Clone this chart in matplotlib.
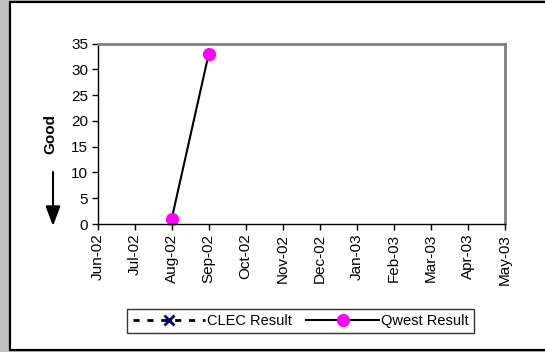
import numpy as np
import matplotlib
matplotlib.use('Agg')
import matplotlib.pyplot as plt
from matplotlib.patches import Rectangle, FancyArrowPatch

plt.rcParams['font.family'] = ['Liberation Sans', 'DejaVu Sans']

# data
months = ["Jun-02", "Jul-02", "Aug-02", "Sep-02", "Oct-02", "Nov-02",
          "Dec-02", "Jan-03", "Feb-03", "Mar-03", "Apr-03", "May-03"]
clec_result = [np.nan] * 12
qwest_result = [np.nan, np.nan, 1, 33, np.nan, np.nan,
                np.nan, np.nan, np.nan, np.nan, np.nan, np.nan]
y_ticks = [0, 5, 10, 15, 20, 25, 30, 35]

fig = plt.figure(figsize=(5.45, 3.52), dpi=100)
fig.patch.set_facecolor('#c0c0c0')

# white panel with black frame, kept behind everything
frame = Rectangle((10 / 545, 2 / 352), 1.2, 348 / 352, transform=fig.transFigure,
                  facecolor='white', edgecolor='black', linewidth=1.6, zorder=-10)
fig.patches.append(frame)

ax = fig.add_axes([97.7 / 545, 128 / 352, 407 / 545, 180.3 / 352])
ax.set_zorder(1)
ax.set_facecolor('white')

x = np.arange(len(months))
ax.plot(x, clec_result, linestyle=(0, (2.2, 2.8)), color='black', linewidth=2,
        marker='x', markersize=7, markeredgecolor='#000080', markeredgewidth=2,
        label='CLEC Result')
ax.plot(x, qwest_result, linestyle='-', color='black', linewidth=1.5,
        marker='o', markersize=8.5, markerfacecolor='#ff00ff', markeredgecolor='#ff00ff',
        label='Qwest Result', clip_on=False)

ax.set_xlim(0, len(months) - 1)
ax.set_ylim(0, 35)
ax.set_xticks(x)
ax.set_xticklabels(months, rotation=90, fontsize=11)
ax.set_yticks(y_ticks)
ax.set_yticklabels([str(v) for v in y_ticks], fontsize=11)
ax.tick_params(axis='both', direction='out', length=4, width=1, color='black', pad=3)

for spine in ax.spines.values():
    spine.set_color('#808080')
    spine.set_linewidth(2)
ax.spines['left'].set_color('black')
ax.spines['left'].set_linewidth(1)
ax.spines['bottom'].set_color('black')
ax.spines['bottom'].set_linewidth(1)

# "Good" label with down arrow
fig.text(50 / 545, 1 - 134 / 352, 'Good', rotation=90, fontsize=11, fontweight='bold',
         ha='center', va='center')
fig.add_artist(FancyArrowPatch(
    (53 / 545, 1 - 172 / 352), (53 / 545, 1 - 226 / 352), transform=fig.transFigure,
    arrowstyle='-|>,head_length=12,head_width=4.5', color='black', linewidth=1.5,
    shrinkA=0, shrinkB=0))

leg = fig.legend(loc='center', bbox_to_anchor=(300.5 / 545, 1 - 321 / 352), ncol=2,
                 fontsize=10.5, frameon=True, fancybox=False, handlelength=5,
                 handletextpad=0.1, columnspacing=1.0, borderpad=0.35,
                 borderaxespad=0)
leg.get_frame().set_edgecolor('black')
leg.get_frame().set_linewidth(1)

fig.savefig('out.png', dpi=100, facecolor=fig.get_facecolor())
